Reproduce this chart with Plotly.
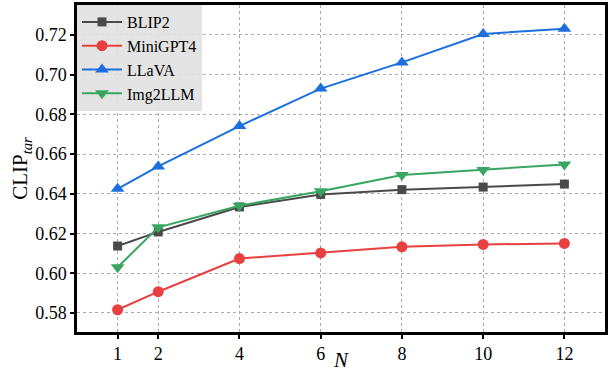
import plotly.graph_objects as go

N = [1, 2, 4, 6, 8, 10, 12]
blip2 = [0.6137, 0.6208, 0.6334, 0.6397, 0.6421, 0.6434, 0.6449]
minigpt4 = [0.5816, 0.5907, 0.6074, 0.6102, 0.6133, 0.6145, 0.6150]
llava = [0.6425, 0.6538, 0.6741, 0.6930, 0.7062, 0.7205, 0.7232]
img2llm = [0.6030, 0.6231, 0.6340, 0.6413, 0.6495, 0.6520, 0.6548]
x_ticks = [1, 2, 4, 6, 8, 10, 12]
y_ticks = [0.58, 0.60, 0.62, 0.64, 0.66, 0.68, 0.70, 0.72]

series = [
    ("BLIP2", blip2, "#4a4a4a", "square", 9),
    ("MiniGPT4", minigpt4, "#e8403f", "circle", 11),
    ("LLaVA", llava, "#1c6fdc", "triangle-up", 12),
    ("Img2LLM", img2llm, "#38a660", "triangle-down", 12),
]

fig = go.Figure()
for name, vals, color, sym, sz in series:
    fig.add_trace(go.Scatter(
        x=N, y=vals, name=name, mode="lines+markers",
        line=dict(color=color, width=2),
        marker=dict(symbol=sym, size=sz, color=color),
    ))

font = "Liberation Serif"
tickfont = dict(family=font, size=18, color="black")
fig.update_layout(
    width=616, height=372,
    margin=dict(l=77, r=11, t=5, b=40, autoexpand=False),
    paper_bgcolor="white", plot_bgcolor="white",
    font=dict(family=font, size=18, color="black"),
    showlegend=True,
    legend=dict(x=0.0, y=1.0, xanchor="left", yanchor="top",
                bgcolor="rgba(225,225,225,0.9)", borderwidth=0,
                font=dict(size=16, family=font), tracegroupgap=0,
                itemwidth=40),
)
fig.update_xaxes(
    range=[0, 13], tickvals=x_ticks, ticktext=[str(v) for v in x_ticks],
    tickfont=tickfont,
    showline=True, linecolor="black", linewidth=2.5, mirror=True,
    ticks="outside", ticklen=4, tickwidth=1.5, tickcolor="black",
    showgrid=True, gridcolor="#aaaaaa", griddash="dot", gridwidth=1,
    zeroline=False, automargin=False,
    title=dict(text="<i>N</i>", font=dict(size=21, family=font), standoff=0),
)
fig.update_yaxes(
    range=[0.5704, 0.7351], tickvals=y_ticks, ticktext=[f"{v:.2f}" for v in y_ticks],
    tickfont=tickfont,
    showline=True, linecolor="black", linewidth=2.5, mirror=True,
    ticks="outside", ticklen=4, tickwidth=1.5, tickcolor="black",
    showgrid=True, gridcolor="#aaaaaa", griddash="dot", gridwidth=1,
    zeroline=False, automargin=False,
    title=dict(text="CLIP<sub><i>tar</i></sub>", font=dict(size=21, family=font), standoff=2),
)
fig.write_html("out.html", config={"displayModeBar": False},
               post_script="document.body.style.margin='0';")
